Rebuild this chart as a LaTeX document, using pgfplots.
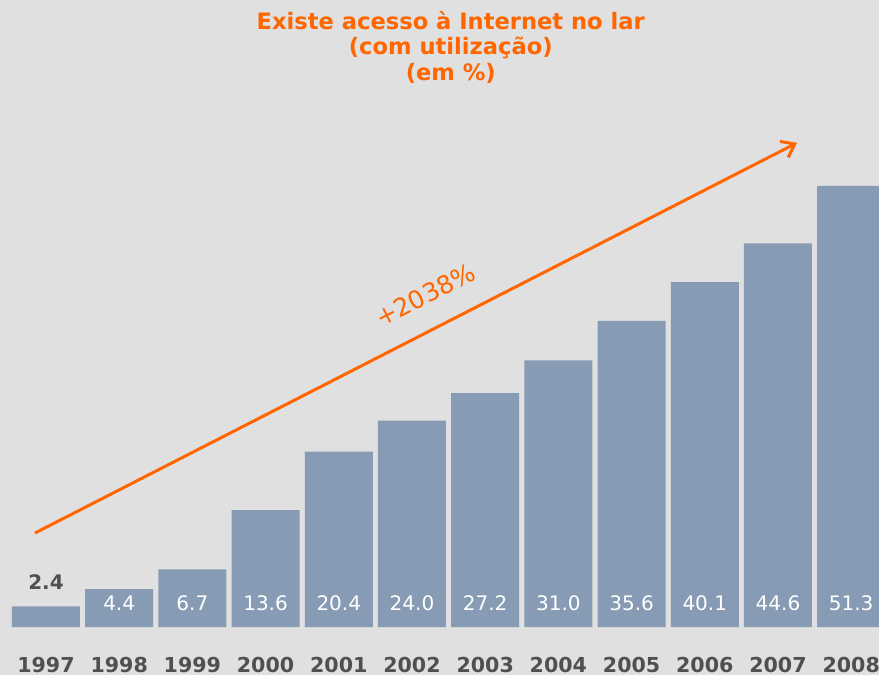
\documentclass[border=0pt]{standalone}
\usepackage{pgfplots}
\pgfplotsset{compat=1.18}
\usepackage{fontspec}
\setmainfont{DejaVu Sans}
\usetikzlibrary{arrows.meta}

\definecolor{bg}{RGB}{224,224,224}
\definecolor{barblue}{RGB}{135,155,180}
\definecolor{orng}{RGB}{255,102,0}
\definecolor{yeargray}{RGB}{80,80,80}

\begin{document}
\begin{tikzpicture}
\begin{axis}[
    scale only axis,
    width=439.5pt, height=337.5pt,
    xmin=-0.628, xmax=11.38,
    ymin=-5.58, ymax=72.91,
    axis background/.style={fill=bg},
    axis line style={draw=none},
    xtick=\empty, ytick=\empty,
]
\coordinate (SW) at (rel axis cs:0,0);
\coordinate (NE) at (rel axis cs:1,1);
% bars
\addplot[ybar, bar width=0.929, fill=barblue, draw=none] coordinates {
    (0,2.4) (1,4.4) (2,6.7) (3,13.6) (4,20.4) (5,24.0)
    (6,27.2) (7,31.0) (8,35.6) (9,40.1) (10,44.6) (11,51.3)
};
% value labels inside the bars
\addplot[draw=none, mark=none, nodes near coords, point meta=explicit symbolic,
    every node near coord/.style={anchor=center, text=white, font=\fontsize{10}{11}\selectfont}]
    table[meta=lab] {
x y lab
1 2.79 4.4
2 2.79 6.7
3 2.79 13.6
4 2.79 20.4
5 2.79 24.0
6 2.79 27.2
7 2.79 31.0
8 2.79 35.6
9 2.79 40.1
10 2.79 44.6
11 2.79 51.3
};
% first value above its bar
\addplot[draw=none, mark=none, nodes near coords, point meta=explicit symbolic,
    every node near coord/.style={anchor=center, text=yeargray, font=\bfseries\fontsize{10}{11}\selectfont}]
    table[meta=lab] {
x y lab
0 5.23 2.4
};
% years
\addplot[draw=none, mark=none, nodes near coords, point meta=explicit symbolic,
    every node near coord/.style={anchor=center, text=yeargray, font=\bfseries\fontsize{10.3}{12}\selectfont}]
    table[meta=lab] {
x y lab
0 -4.42 1997
1 -4.42 1998
2 -4.42 1999
3 -4.42 2000
4 -4.42 2001
5 -4.42 2002
6 -4.42 2003
7 -4.42 2004
8 -4.42 2005
9 -4.42 2006
10 -4.42 2007
11 -4.42 2008
};
% growth arrow
\draw[orng, line width=1.5pt, -{Straight Barb[length=6pt,width=9pt,line width=1.5pt]}]
    (axis cs:-0.15,10.93) -- (axis cs:10.26,56.3);
\node[orng, rotate=27, font=\fontsize{12.5}{13}\selectfont] at (axis cs:5.18,38.6) {+2038\%};
% title
\node[orng, align=center, font=\bfseries\fontsize{11.3}{12.7}\selectfont]
    at (axis cs:5.53,67.4) {Existe acesso à Internet no lar\\(com utilização)\\(em \%)};
\end{axis}
\pgfresetboundingbox
\path[use as bounding box] (SW) rectangle (NE);
\end{tikzpicture}
\end{document}
